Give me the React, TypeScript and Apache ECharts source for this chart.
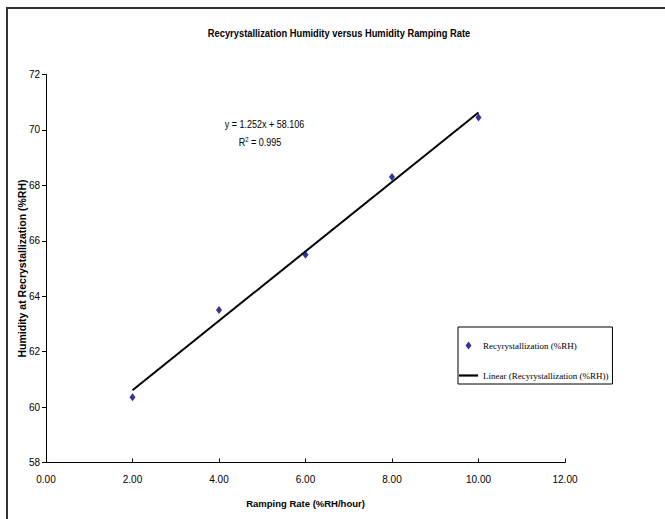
import React, { useEffect, useRef } from "react";
import * as echarts from "echarts";

const rampRates = [2, 4, 6, 8, 10];
const recrystHumidity = [60.35, 63.5, 65.5, 68.3, 70.45];
const trendX = [2, 10];
const trendY = [60.61, 70.626];
const xTicks = [0, 2, 4, 6, 8, 10, 12];
const yTicks = [58, 60, 62, 64, 66, 68, 70, 72];

const titleText = "Recyrystallization Humidity versus Humidity Ramping Rate";
const eqText = "y = 1.252x + 58.106";
const r2Text = "0.995";
const scatterName = "Recyrystallization (%RH)";
const lineName = "Linear (Recyrystallization (%RH))";

const SANS = "'Liberation Sans Narrow', 'Arial Narrow', 'Liberation Sans', Arial, sans-serif";
const SERIF = "'Liberation Serif', 'Times New Roman', serif";

export default function App() {
  const ref = useRef<HTMLDivElement>(null);
  useEffect(() => {
    if (!ref.current) return;
    const chart = echarts.init(ref.current, null, { renderer: "svg" });
    const diamond = "path://M3,0 L6,4 L3,8 L0,4 Z";
    const lineIcon = "path://M0,0 L19,0 L19,2.2 L0,2.2 Z";
    chart.setOption({
      animation: false,
      backgroundColor: "#ffffff",
      grid: { left: 46, right: 100, top: 74.5, bottom: 56.5, containLabel: false },
      xAxis: {
        type: "value",
        min: xTicks[0],
        max: xTicks[xTicks.length - 1],
        interval: 2,
        name: "Ramping Rate (%RH/hour)",
        nameLocation: "middle",
        nameGap: 36,
        nameTextStyle: { fontFamily: SANS, fontSize: 9.5, fontWeight: "bold", color: "#000" },
        axisLine: { onZero: false, lineStyle: { color: "#000", width: 1 } },
        axisTick: { show: true, inside: true, length: 4, lineStyle: { color: "#000" } },
        axisLabel: {
          margin: 12,
          fontFamily: SANS,
          fontSize: 10,
          color: "#000",
          formatter: (v: number) => v.toFixed(2),
        },
        splitLine: { show: false },
      },
      yAxis: {
        type: "value",
        min: yTicks[0],
        max: yTicks[yTicks.length - 1],
        interval: 2,
        name: "Humidity at Recrystallization (%RH)",
        nameLocation: "middle",
        nameGap: 19,
        nameMoveOverlap: false,
        nameTextStyle: { fontFamily: SANS, fontSize: 10.5, fontWeight: "bold", color: "#000" },
        axisLine: { show: true, onZero: false, lineStyle: { color: "#000", width: 1 } },
        axisTick: { show: true, inside: false, length: 4, lineStyle: { color: "#000" } },
        axisLabel: { margin: 6, fontFamily: SANS, fontSize: 10, color: "#000" },
        splitLine: { show: false },
      },
      legend: {
        orient: "vertical",
        left: 458,
        top: 327,
        padding: [14, 4, 4, 1],
        itemGap: 21,
        itemWidth: 19,
        itemHeight: 8,
        symbolKeepAspect: true,
        borderColor: "#000",
        borderWidth: 1,
        backgroundColor: "#fff",
        textStyle: { fontFamily: SERIF, fontSize: 9, color: "#000" },
        data: [
          { name: scatterName, icon: diamond },
          { name: lineName, icon: lineIcon },
        ],
      },
      series: [
        {
          name: lineName,
          type: "line",
          data: trendX.map((x, i) => [x, trendY[i]]),
          symbol: "none",
          lineStyle: { color: "#000", width: 2 },
          itemStyle: { color: "#000" },
          z: 2,
        },
        {
          name: scatterName,
          type: "scatter",
          data: rampRates.map((x, i) => [x, recrystHumidity[i]]),
          symbol: diamond,
          symbolSize: [6, 8],
          itemStyle: { color: "#000080" },
          z: 3,
        },
      ],
      graphic: [
        {
          type: "rect",
          shape: { x: 7, y: 8, width: 700, height: 600 },
          style: { fill: "none", stroke: "#333", lineWidth: 2 },
          silent: true,
        },
        {
          type: "text",
          x: 339,
          y: 33,
          scaleX: 0.85,
          style: {
            text: titleText,
            textAlign: "center",
            textVerticalAlign: "middle",
            fontFamily: SANS,
            fontSize: 11,
            fontWeight: "bold",
            fill: "#000",
          },
        },
        {
          type: "text",
          x: 264.5,
          y: 124,
          scaleX: 0.86,
          style: {
            text: eqText,
            textAlign: "center",
            textVerticalAlign: "middle",
            fontFamily: SANS,
            fontSize: 10.5,
            fill: "#000",
          },
        },
        {
          type: "text",
          x: 260,
          y: 142,
          scaleX: 0.86,
          style: {
            text: "R{sup|2} = " + r2Text,
            textAlign: "center",
            textVerticalAlign: "middle",
            fontFamily: SANS,
            fontSize: 10.5,
            fill: "#000",
            rich: {
              sup: { fontFamily: SANS, fontSize: 7, verticalAlign: "top", padding: [0, 0, 6, 0], fill: "#000" },
            },
          },
        },
      ],
    });
    return () => chart.dispose();
  }, []);
  return (
    <div
      ref={ref}
      style={{ position: "fixed", left: 0, top: 0, width: 665, height: 519, background: "#fff" }}
    />
  );
}
